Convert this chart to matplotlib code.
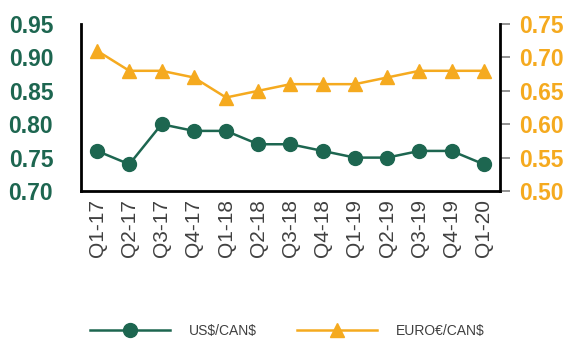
import matplotlib
matplotlib.use("Agg")
import matplotlib.pyplot as plt

quarters = ["Q1-17", "Q2-17", "Q3-17", "Q4-17", "Q1-18", "Q2-18", "Q3-18",
            "Q4-18", "Q1-19", "Q2-19", "Q3-19", "Q4-19", "Q1-20"]
usd_cad = [0.76, 0.74, 0.80, 0.79, 0.79, 0.77, 0.77, 0.76, 0.75, 0.75, 0.76, 0.76, 0.74]
eur_cad = [0.71, 0.68, 0.68, 0.67, 0.64, 0.65, 0.66, 0.66, 0.66, 0.67, 0.68, 0.68, 0.68]
left_ticks = [0.70, 0.75, 0.80, 0.85, 0.90, 0.95]
right_ticks = [0.50, 0.55, 0.60, 0.65, 0.70, 0.75]
series_names = [r'US\$/CAN\$', r'EURO€/CAN\$']

GREEN = '#1d6650'
ORANGE = '#f5aa1f'
FONT = 'Liberation Sans'

fig = plt.figure(figsize=(5.64, 3.39), dpi=100)
ax = fig.add_axes([0.1436, 0.4366, 0.7429, 0.4924])
ax2 = ax.twinx()

x = list(range(len(quarters)))
l1, = ax.plot(x, usd_cad, color=GREEN, lw=1.8, marker='o', ms=10, zorder=3)
l2, = ax2.plot(x, eur_cad, color=ORANGE, lw=1.8, marker='^', ms=10, zorder=3)

ax.set_xlim(-0.5, len(quarters) - 0.5)
ax.set_ylim(0.70, 0.95)
ax2.set_ylim(0.50, 0.75)
ax.set_yticks(left_ticks)
ax.set_yticklabels([f"{v:.2f}" for v in left_ticks], color=GREEN, fontweight='bold',
                   fontsize=16.5, family=FONT)
ax2.set_yticks(right_ticks)
ax2.set_yticklabels([f"{v:.2f}" for v in right_ticks], color=ORANGE, fontweight='bold',
                    fontsize=16.5, family=FONT)
ax.set_xticks(x)
ax.set_xticklabels(quarters, rotation=90, fontsize=15, color='#404040', family=FONT)

ax.tick_params(axis='y', length=0, pad=20)
ax.tick_params(axis='x', length=0, pad=6)
ax2.tick_params(axis='y', length=7, width=1.2, color='#7f7f7f', pad=7)

for a in (ax, ax2):
    a.spines['top'].set_visible(False)
ax.spines['right'].set_visible(False)
ax2.spines['left'].set_visible(False)
ax2.spines['bottom'].set_visible(False)
ax.spines['left'].set_linewidth(2)
ax.spines['bottom'].set_linewidth(2)
ax2.spines['right'].set_linewidth(2)
for s in ('left', 'bottom'):
    ax.spines[s].set_color('black')
ax2.spines['right'].set_color('black')

fig.legend([l1, l2], series_names, loc='center', bbox_to_anchor=(0.509, 0.024),
           ncol=2, frameon=False, handlelength=5.75, columnspacing=2.9, handletextpad=1.37,
           prop={'family': FONT, 'size': 10}, labelcolor='#404040')

fig.savefig('out.png', dpi=100)
